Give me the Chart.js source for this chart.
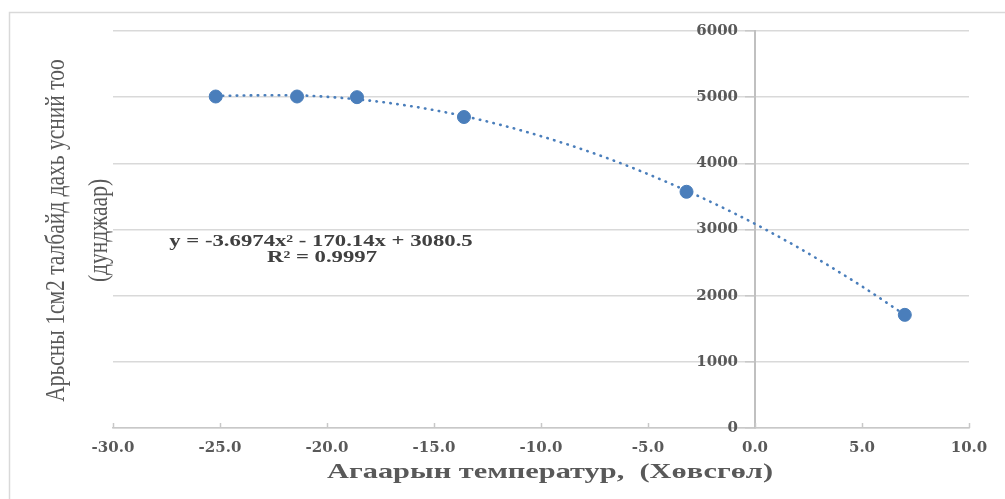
<!DOCTYPE html>
<html><head><meta charset="utf-8">
<script src="https://cdn.jsdelivr.net/npm/chart.js@4/dist/chart.umd.min.js"></script>
<style>html,body{margin:0;padding:0;background:#fff;}#wrap{width:1005px;height:499px;}</style>
</head><body><div id="wrap"><canvas id="c" width="1005" height="499"></canvas></div>
<script>
// Observed points
const temperatures = [-25.2, -21.4, -18.6, -13.6, -3.2, 7.0];
const hairCounts = [5010, 5010, 5000, 4700, 3570, 1710];
// Dotted polynomial trendline
const trendX = [-25.2, -22, -19, -16, -13, -10, -7, -4, -1, 2, 5, 7.0];
const trendY = [5020, 5030, 4980, 4860, 4670, 4410, 4090, 3700, 3250, 2730, 2140, 1710];
const xTicks = [-30, -25, -20, -15, -10, -5, 0, 5, 10];
const yTicks = [0, 1000, 2000, 3000, 4000, 5000, 6000];
const equationText = 'y = -3.6974x² - 170.14x + 3080.5';
const r2Text = 'R² = 0.9997';
const yTitle1 = 'Арьсны 1см2 талбайд дахь усний тоо';
const yTitle2 = '(дунджаар)';
const xTitle = 'Агаарын температур,  (Хөвсгөл)';

const blue = '#4a7ebb';
const serif = "'Liberation Serif', 'Times New Roman', serif";
const wideSerif = "'DejaVu Serif', serif";
const STRETCH = 1.38;
const Y_LABEL_GAP = 17;

function stretchedText(ctx, text, x, y, sx) {
  ctx.save();
  ctx.translate(x, y);
  ctx.scale(sx, 1);
  ctx.fillText(text, 0, 0);
  ctx.restore();
}

const decor = {
  id: 'decor',
  beforeDraw(chart) {
    const ctx = chart.ctx;
    // y axis crosses at x = 0: move its labels left of the tick marks
    const ys = chart.scales.y;
    if (ys && !ys._gapPatched) {
      const orig = ys.drawLabels.bind(ys);
      ys.drawLabels = function (area) {
        this.ctx.save();
        this.ctx.translate(-Y_LABEL_GAP, 0);
        orig(area);
        this.ctx.restore();
      };
      ys._gapPatched = true;
    }
    ctx.save();
    ctx.fillStyle = '#fff';
    ctx.fillRect(0, 0, chart.width, chart.height);
    ctx.strokeStyle = '#d9d9d9';
    ctx.lineWidth = 1.5;
    ctx.strokeRect(9.5, 12.5, 1200, 700);
    ctx.restore();
  },
  afterDraw(chart) {
    const ctx = chart.ctx;
    const xs = chart.scales.x;
    const ca = chart.chartArea;
    ctx.save();
    // inner tick marks on x axis
    ctx.strokeStyle = '#c8c8c8';
    ctx.lineWidth = 1.5;
    xTicks.forEach(v => {
      const px = Math.round(xs.getPixelForValue(v)) + 0.5;
      ctx.beginPath();
      ctx.moveTo(px, ca.bottom);
      ctx.lineTo(px, ca.bottom - 5);
      ctx.stroke();
    });
    ctx.restore();

    // y title (rotated, glyphs widened like the reference)
    ctx.save();
    ctx.fillStyle = '#595959';
    ctx.font = '21.5px ' + serif;
    ctx.textAlign = 'center';
    ctx.textBaseline = 'middle';
    const cy = (ca.top + ca.bottom) / 2 + 1;
    ctx.save();
    ctx.translate(57, cy);
    ctx.rotate(-Math.PI / 2);
    ctx.scale(1, 1.3);
    ctx.fillText(yTitle1, 0, 0);
    ctx.restore();
    ctx.save();
    ctx.translate(100, cy);
    ctx.rotate(-Math.PI / 2);
    ctx.scale(1, 1.3);
    ctx.fillText(yTitle2, 0, 0);
    ctx.restore();

    // x title
    ctx.font = 'bold 22px ' + serif;
    stretchedText(ctx, xTitle, (ca.left + ca.right) / 2 + 9, 472, STRETCH);
    ctx.restore();

    // equation
    ctx.save();
    ctx.fillStyle = '#404040';
    ctx.font = 'bold 16px ' + serif;
    ctx.textAlign = 'center';
    ctx.textBaseline = 'middle';
    stretchedText(ctx, equationText, 321, 242, 1.42);
    stretchedText(ctx, r2Text, 322, 258, 1.42);
    ctx.restore();
  }
};

new Chart(document.getElementById('c'), {
  type: 'scatter',
  data: {
    datasets: [
      {
        data: trendX.map((x, i) => ({x: x, y: trendY[i]})),
        showLine: true,
        borderColor: blue,
        borderWidth: 2.6,
        borderDash: [0.5, 6.5],
        borderCapStyle: 'round',
        pointRadius: 0,
        cubicInterpolationMode: 'monotone',
        order: 2
      },
      {
        data: temperatures.map((x, i) => ({x: x, y: hairCounts[i]})),
        backgroundColor: blue,
        borderColor: blue,
        pointRadius: 6.5,
        pointHoverRadius: 6.5,
        showLine: false,
        order: 1
      }
    ]
  },
  options: {
    responsive: false,
    animation: false,
    events: [],
    layout: { padding: { left: 113, right: 36, top: 31, bottom: 31 } },
    plugins: { legend: { display: false }, tooltip: { enabled: false } },
    scales: {
      x: {
        type: 'linear',
        min: -30, max: 10,
        afterBuildTicks: s => { s.ticks = xTicks.map(v => ({value: v})); },
        grid: { display: false, drawTicks: false },
        border: { display: true, color: '#c8c8c8', width: 1.5 },
        ticks: {
          padding: 11,
          color: '#595959',
          font: { family: wideSerif, size: 15, weight: 'bold' },
          callback: v => v.toFixed(1)
        },
        title: { display: false }
      },
      y: {
        type: 'linear',
        position: { x: 0 },
        min: 0, max: 6000,
        afterBuildTicks: s => { s.ticks = yTicks.map(v => ({value: v})); },
        grid: { color: '#d9d9d9', lineWidth: 1.5, tickLength: 9, tickColor: '#c8c8c8' },
        border: { display: true, color: '#c0c0c0', width: 2 },
        ticks: {
          padding: 10,
          color: '#595959',
          font: { family: wideSerif, size: 15, weight: 'bold' },
          callback: v => String(v)
        }
      }
    }
  },
  plugins: [decor]
});
</script></body></html>
